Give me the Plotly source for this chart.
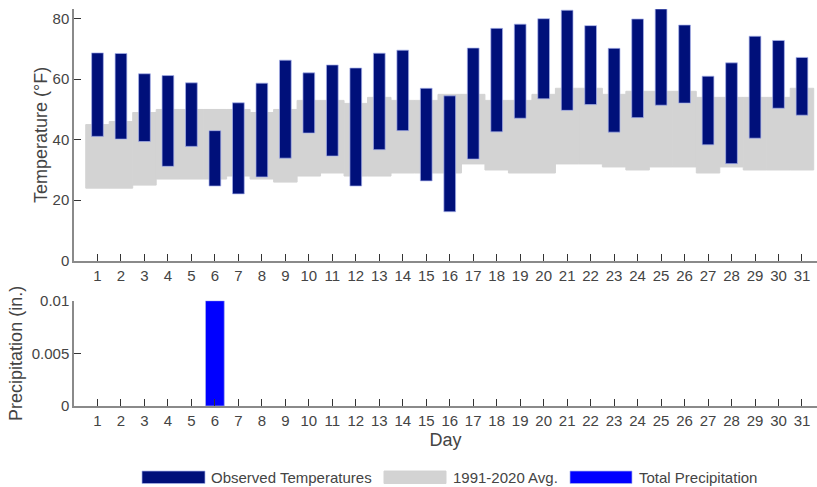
import plotly.graph_objects as go

days = list(range(1, 32))
obs_high = [68.7, 68.5, 61.8, 61.2, 58.8, 43.0, 52.2, 58.7, 66.3, 62.1, 64.7, 63.7, 68.6, 69.6, 57.0, 54.5,
            70.3, 76.8, 78.2, 80.0, 82.8, 77.7, 70.2, 79.9, 83.2, 77.9, 61.0, 65.4, 74.2, 72.8, 67.2]
obs_low = [41.1, 40.2, 39.4, 31.2, 37.8, 24.7, 22.1, 27.7, 33.9, 42.2, 34.6, 24.7, 36.7, 43.0, 26.4, 16.2,
           33.6, 42.6, 47.1, 53.5, 49.7, 51.6, 42.5, 47.3, 51.4, 52.1, 38.3, 32.1, 40.5, 50.4, 48.1]
norm_high = [45, 46, 49, 50, 50, 50, 50, 49, 50, 53, 53, 52, 54, 53, 53, 55,
             55, 53, 53, 55, 57, 57, 55, 56, 56, 56, 54, 54, 54, 54, 57]
norm_low = [24, 24, 25, 27, 27, 27, 28, 27, 26, 28, 29, 28, 28, 29, 29, 29,
            32, 30, 29, 29, 32, 32, 31, 30, 31, 31, 29, 31, 30, 30, 30]
precip = [0, 0, 0, 0, 0, 0.01, 0, 0, 0, 0, 0, 0, 0, 0, 0, 0,
          0, 0, 0, 0, 0, 0, 0, 0, 0, 0, 0, 0, 0, 0, 0]
temp_ticks = [0, 20, 40, 60, 80]
precip_ticks = [0, 0.005, 0.01]
precip_tick_text = ["0", "0.005", "0.01"]
legend_labels = ["Observed Temperatures", "1991-2020 Avg.", "Total Precipitation"]

NAVY = "#00107A"
GRAY = "#D3D3D3"
BLUE = "#0000FF"
EDGE = "rgba(170,180,235,0.7)"
TXT = "#444444"
FONT = "Liberation Sans, Arial, sans-serif"

fig = go.Figure()
fig.add_trace(go.Bar(x=days, y=[h - l for h, l in zip(norm_high, norm_low)], base=norm_low,
                     width=1.0, marker=dict(color=GRAY, line=dict(width=1, color=GRAY)),
                     name=legend_labels[1], xaxis="x", yaxis="y"))
fig.add_trace(go.Bar(x=days, y=[h - l for h, l in zip(obs_high, obs_low)], base=obs_low,
                     width=0.5, marker=dict(color=NAVY, line=dict(width=1, color=EDGE)),
                     name=legend_labels[0], xaxis="x", yaxis="y"))
fig.add_trace(go.Bar(x=days, y=precip, width=0.8,
                     marker=dict(color=BLUE, line=dict(width=[1 if p > 0 else 0 for p in precip], color=EDGE)),
                     name=legend_labels[2], xaxis="x2", yaxis="y2"))

L, R, T, B = 74, 0, 5, 81
W, H = 817, 487
pw, ph = W - L - R, H - T - B
def px(x):
    return (x - L) / pw
def py(y):
    return (H - B - y) / ph

axis_common = dict(showline=True, linecolor="#8a8a8a", linewidth=1.5, ticks="inside", ticklen=7,
                   tickcolor="#333333", tickwidth=1, showgrid=False, zeroline=False,
                   tickfont=dict(size=15, color=TXT, family=FONT))

fig.update_layout(
    width=W, height=H, margin=dict(l=L, r=R, t=T, b=B),
    paper_bgcolor="white", plot_bgcolor="white",
    barmode="overlay", showlegend=False,
    font=dict(family=FONT, color=TXT),
    xaxis=dict(domain=[0, 1], anchor="y", range=[0, 31.64], tickmode="array", tickvals=days, **axis_common),
    yaxis=dict(domain=[py(259.3), 1], anchor="x", range=[0, max(obs_high)], tickmode="array",
               tickvals=temp_ticks, title=dict(text="Temperature (°F)", font=dict(size=18, color=TXT), standoff=0),
               **axis_common),
    xaxis2=dict(domain=[0, 1], anchor="y2", range=[0, 31.64], tickmode="array", tickvals=days,
                title=dict(text="Day", font=dict(size=18, color=TXT), standoff=6), **axis_common),
    yaxis2=dict(domain=[0, py(299.7)], anchor="x2", range=[0, 0.01], tickmode="array",
                tickvals=precip_ticks, ticktext=precip_tick_text,
                title=dict(text="Precipitation (in.)", font=dict(size=18, color=TXT), standoff=4),
                **axis_common),
)

# manual legend
leg_items = [(142, 205, NAVY, EDGE, 209), (384, 446, GRAY, GRAY, 451), (570, 632, BLUE, EDGE, 637)]
for (x0, x1, fc, lc, tx), lab in zip(leg_items, legend_labels):
    fig.add_shape(type="rect", xref="paper", yref="paper", x0=px(x0), x1=px(x1), y0=py(484.3), y1=py(471.7),
                  fillcolor=fc, line=dict(color=lc, width=1))
    fig.add_annotation(xref="paper", yref="paper", x=px(tx), y=py(478), text=lab, showarrow=False,
                       xanchor="left", yanchor="middle", font=dict(size=15, color=TXT, family=FONT))

fig.write_html("out.html", config={"displayModeBar": False},
               post_script="document.body.style.margin='0';document.body.style.overflow='hidden';")
